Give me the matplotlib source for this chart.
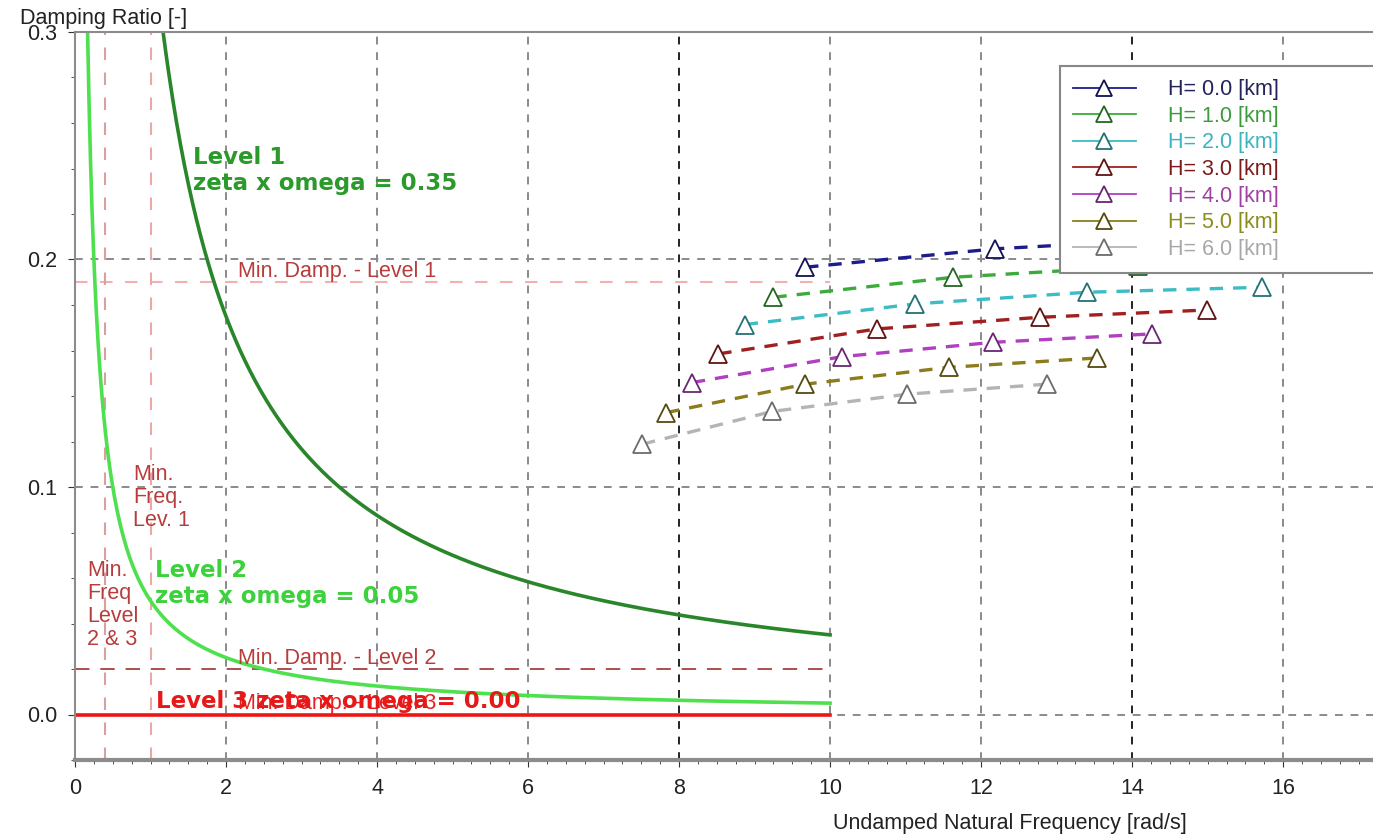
import numpy as np
import matplotlib.pyplot as plt
from matplotlib.ticker import MultipleLocator

# flight condition series
altitude_km = [0.0, 1.0, 2.0, 3.0, 4.0, 5.0, 6.0]
series_colors = ['#1c1c8c', '#3cab3c', '#3cbcc4', '#a02020', '#b040c0', '#8c7c1c', '#b4b4b4']
label_colors = ['#23235a', '#3c9c3c', '#3cb4c0', '#7a1c1c', '#a040a0', '#8c8c1c', '#a8a8a8']
freq = [
    [9.67, 12.19, 14.77, 17.35],
    [9.25, 11.63, 14.08, 16.60],
    [8.87, 11.13, 13.40, 15.72],
    [8.52, 10.62, 12.78, 14.99],
    [8.17, 10.16, 12.16, 14.26],
    [7.83, 9.67, 11.57, 13.53],
    [7.51, 9.23, 11.02, 12.87],
]
damp = [
    [0.1966, 0.2047, 0.2094, 0.2116],
    [0.1834, 0.1922, 0.1970, 0.1993],
    [0.1714, 0.1805, 0.1856, 0.1878],
    [0.1585, 0.1695, 0.1746, 0.1778],
    [0.1459, 0.1573, 0.1636, 0.1673],
    [0.1327, 0.1452, 0.1526, 0.1567],
    [0.1188, 0.1332, 0.1408, 0.1452],
]

# requirement boundaries
level_names = ['Level 1', 'Level 2', 'Level 3']
zeta_omega = [0.35, 0.05, 0.00]
level_colors = ['#2a862a', '#4ee04e', '#ee1515']
level_text_colors = ['#2a9a2a', '#3cd23c', '#e61818']
min_damp = [0.19, 0.02, 0.0]
min_damp_text_colors = ['#b83c3c', '#b83c3c', '#e62020']
min_freq = [1.0, 0.4]
omega_max = 10.0

ymin, ymax = -0.02, 0.3
xmax = 17.19

fig = plt.figure(figsize=(13.73, 8.39), dpi=100)
ax = fig.add_axes([75 / 1373, 79 / 839, 1 - 75 / 1373, 728 / 839])
ax.set_xlim(0, xmax)
ax.set_ylim(ymin, ymax)

# grid
ax.xaxis.set_major_locator(MultipleLocator(2))
ax.xaxis.set_minor_locator(MultipleLocator(0.25))
ax.yaxis.set_major_locator(MultipleLocator(0.1))
ax.yaxis.set_minor_locator(MultipleLocator(0.02))
ax.grid(True, which='major', color='#8a8a8a', lw=1.4, dashes=(4, 4))
for t, gl in zip(ax.get_xticks(), ax.get_xgridlines()):
    if t in (8, 14):
        gl.set_color('#222222')
ax.set_axisbelow(True)

for s in ['left', 'top', 'bottom']:
    ax.spines[s].set_color('#8c8c8c')
ax.spines['left'].set_linewidth(1.5)
ax.spines['top'].set_linewidth(1.5)
ax.spines['bottom'].set_linewidth(3)
ax.spines['right'].set_visible(False)
ax.tick_params(which='major', length=5, color='#333333', labelsize=15.5, pad=8)
ax.tick_params(which='minor', length=3, color='#333333')
ax.set_xticklabels([f'{int(t)}' for t in ax.get_xticks()])
ax.set_yticklabels([f'{t:.1f}' for t in ax.get_yticks()])
for lab in ax.get_xticklabels() + ax.get_yticklabels():
    lab.set_family('Liberation Sans')
    lab.set_color('#222222')

# min damping / min frequency lines
ax.plot([0, omega_max], [min_damp[0]] * 2, color='#f2b0b0', lw=1.5, dashes=(6, 6))
ax.plot([0, omega_max], [min_damp[1]] * 2, color='#a84040', lw=1.3, dashes=(8, 6))
ax.plot([min_freq[0]] * 2, [ymin, ymax], color='#eaa8a8', lw=1.5, dashes=(6, 6))
ax.plot([min_freq[1]] * 2, [ymin, ymax], color='#d8a0a0', lw=1.5, dashes=(6, 6))

# zeta x omega boundaries
for zo, c in zip(zeta_omega, level_colors):
    if zo > 0:
        w = np.linspace(zo / ymax, omega_max, 500)
        ax.plot(w, zo / w, color=c, lw=2.6)
    else:
        ax.plot([0, omega_max], [0, 0], color=c, lw=2.6)

# flight data
handles = []
for h, c, x, y in zip(altitude_km, series_colors, freq, damp):
    edge = tuple(0.6 * np.array(plt.matplotlib.colors.to_rgb(c)))
    ax.plot(x, y, color=c, lw=2.4, dashes=(4, 3), zorder=3)
    ax.plot(x, y, ls='none', marker='^', ms=13, mfc='white', mec=edge, mew=1.3, zorder=4)
    hd, = ax.plot([], [], color=c, lw=1.3, marker='^', ms=11, mfc='white', mec=edge, mew=1.3,
                  label=f'H= {h:.1f} [km]')
    handles.append(hd)

# annotations
reg = dict(family='Liberation Sans', fontsize=15.5)
bold = dict(family='DejaVu Sans', fontsize=16.5, fontweight='bold')
ax.text(1.56, 0.250, f'{level_names[0]}\nzeta x omega = {zeta_omega[0]:.2f}', va='top',
        color=level_text_colors[0], linespacing=1.2, **bold)
ax.text(1.06, 0.0685, f'{level_names[1]}\nzeta x omega = {zeta_omega[1]:.2f}', va='top',
        color=level_text_colors[1], linespacing=1.2, **bold)
for name, md, c in zip(level_names, min_damp, min_damp_text_colors):
    ax.text(2.16, md, f'Min. Damp. - {name}', va='bottom', color=c, **reg)
ax.text(1.07, 0.0005, f'{level_names[2]} zeta x omega = {zeta_omega[2]:.2f}', va='bottom',
        color=level_text_colors[2], **bold)
ax.text(0.77, 0.110, 'Min.\nFreq.\nLev. 1', va='top', linespacing=1.12, color='#b83c3c', **reg)
ax.text(0.16, 0.068, 'Min.\nFreq\nLevel\n2 & 3', va='top', linespacing=1.12, color='#b83c3c', **reg)

leg = ax.legend(handles=handles, loc='upper left', bbox_to_anchor=(0.759, 0.0, 0.26, 0.953),
                mode='expand', fancybox=False, framealpha=1, edgecolor='#888888',
                prop={'family': 'Liberation Sans', 'size': 15.5}, labelspacing=0.26,
                handlelength=2.9, borderpad=0.6, handletextpad=1.5, borderaxespad=0)
leg.get_frame().set_linewidth(1.5)
for txt, c in zip(leg.get_texts(), label_colors):
    txt.set_color(c)

fig.text(20 / 1373, 1 - 8 / 839, 'Damping Ratio [-]', va='top', ha='left',
         family='Liberation Sans', fontsize=15.5, color='#222222')
fig.text(1010 / 1373, 0.006, 'Undamped Natural Frequency [rad/s]', va='bottom',
         ha='center', family='Liberation Sans', fontsize=15.5, color='#222222')

fig.savefig('out.png', dpi=100)
